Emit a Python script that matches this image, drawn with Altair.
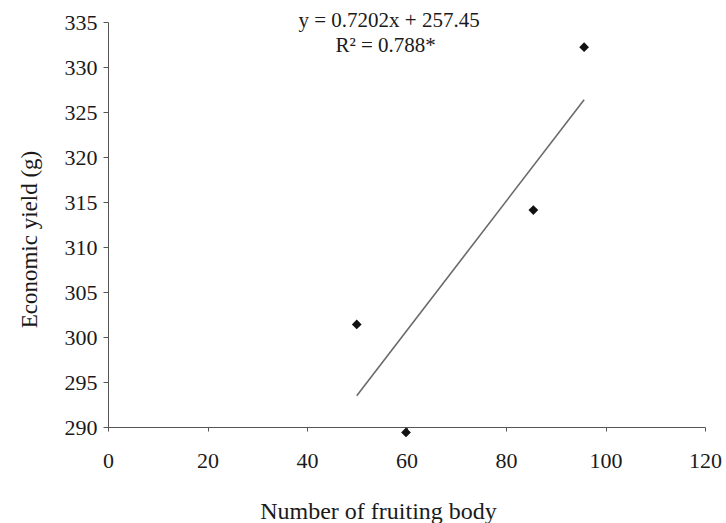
import altair as alt
import pandas as pd

# Observed values
fruiting_bodies = [50.0, 59.9, 85.5, 95.7]
economic_yield = [301.4, 289.4, 314.1, 332.2]

# Fitted regression as reported
slope = 0.7202
intercept = 257.45
fit_range = [50.0, 95.7]

x_ticks = [0, 20, 40, 60, 80, 100, 120]
y_ticks = [290, 295, 300, 305, 310, 315, 320, 325, 330, 335]

FONT = "Liberation Serif"
INK = "#1a1a1a"

points = pd.DataFrame({"x": fruiting_bodies, "y": economic_yield})
fit = pd.DataFrame({"x": fit_range, "y": [slope * v + intercept for v in fit_range]})
notes = pd.DataFrame({
    "x": [56.5, 55.8],
    "y": [334.5, 331.7],
    "label": [f"y = {slope}x + {intercept}", "R\u00b2 = 0.788*"],
})

x_scale = alt.Scale(domain=[0, 120], nice=False, zero=False)
y_scale = alt.Scale(domain=[290, 335], nice=False, zero=False)

x_axis = alt.Axis(
    values=x_ticks, title="Number of fruiting body", grid=False,
    tickSize=4, labelPadding=19, labelFontSize=22, labelFont=FONT, labelColor=INK,
    titleFont=FONT, titleFontSize=24, titleFontWeight="normal", titleColor=INK,
    titleX=270, titleY=91, titleBaseline="alphabetic", titleAnchor="middle",
    domainColor="#555555", tickColor="#555555", labelFlush=False,
)
y_axis = alt.Axis(
    values=y_ticks, title="Economic yield (g)", grid=False,
    tickSize=5, labelPadding=6, labelFontSize=22, labelFont=FONT, labelColor=INK,
    titleFont=FONT, titleFontSize=23, titleFontWeight="normal", titleColor=INK,
    titleAngle=270, titleX=-72, titleY=217, titleBaseline="alphabetic",
    titleAlign="center", domainColor="#555555", tickColor="#555555",
    labelFlush=False,
)

scatter = alt.Chart(points).mark_point(
    shape="diamond", filled=True, size=95, color="#111111", opacity=1
).encode(
    x=alt.X("x:Q", scale=x_scale, axis=x_axis),
    y=alt.Y("y:Q", scale=y_scale, axis=y_axis),
)

trend = alt.Chart(fit).mark_line(color="#6a6a6a", strokeWidth=1.6).encode(
    x=alt.X("x:Q", scale=x_scale),
    y=alt.Y("y:Q", scale=y_scale),
)

labels = alt.Chart(notes).mark_text(
    font=FONT, fontSize=21, color=INK, align="center", baseline="alphabetic"
).encode(
    x=alt.X("x:Q", scale=x_scale),
    y=alt.Y("y:Q", scale=y_scale),
    text="label:N",
)

chart = alt.layer(trend, scatter, labels).properties(
    width=597, height=405,
    autosize=alt.AutoSizeParams(type="none"),
    padding={"left": 108, "top": 22, "right": 21, "bottom": 96},
    background="white",
).configure_view(stroke=None)

chart.save("out.html", embed_options={"renderer": "svg", "actions": False})
